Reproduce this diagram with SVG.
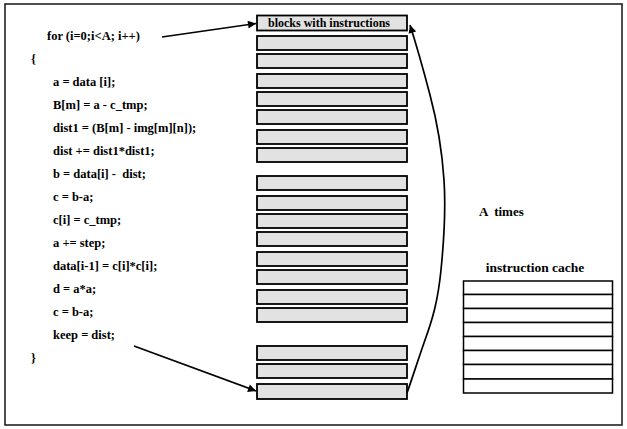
<svg xmlns="http://www.w3.org/2000/svg" width="627" height="429" viewBox="0 0 627 429">
<style>
.t{font-family:"Liberation Serif","Times New Roman",serif;font-weight:bold;fill:#000}
.code{font-size:12.5px}
.blk{fill:#e2e2e2;stroke:#000;stroke-width:1.8}
.row{fill:#fff;stroke:#000;stroke-width:1.5}
.conn{fill:none;stroke:#000;stroke-width:1.7}
</style>
<defs>
<marker id="ah" viewBox="0 0 10 10" refX="10" refY="5" markerWidth="10" markerHeight="8" markerUnits="userSpaceOnUse" orient="auto">
<path d="M0,0 L10,5 L0,10 z" fill="#000"/>
</marker>
</defs>
<rect x="5" y="4" width="617" height="421" fill="#fff" stroke="#222" stroke-width="1.6"/>
<g id="code">
<text class="t code" x="47" y="40">for (i=0;i&lt;A; i++)</text>
<text class="t code" x="31" y="63">{</text>
<text class="t code" x="53" y="86">a = data [i];</text>
<text class="t code" x="53" y="109">B[m] = a - c_tmp;</text>
<text class="t code" x="53" y="132">dist1 = (B[m] - img[m][n]);</text>
<text class="t code" x="53" y="155">dist += dist1*dist1;</text>
<text class="t code" x="53" y="178" xml:space="preserve">b = data[i] -  dist;</text>
<text class="t code" x="53" y="201">c = b-a;</text>
<text class="t code" x="53" y="224">c[i] = c_tmp;</text>
<text class="t code" x="53" y="247">a += step;</text>
<text class="t code" x="53" y="270">data[i-1] = c[i]*c[i];</text>
<text class="t code" x="53" y="293">d = a*a;</text>
<text class="t code" x="53" y="316">c = b-a;</text>
<text class="t code" x="53" y="339">keep = dist;</text>
<text class="t code" x="31" y="362">}</text>
</g>
<g id="blocks">
<rect class="blk" x="257" y="15.5" width="150" height="15"/>
<text class="t" x="329" y="27" font-size="12" text-anchor="middle">blocks with instructions</text>
<rect class="blk" x="257" y="36" width="150" height="14"/>
<rect class="blk" x="257" y="54" width="150" height="14"/>
<rect class="blk" x="257" y="74" width="150" height="14"/>
<rect class="blk" x="257" y="92" width="150" height="14"/>
<rect class="blk" x="257" y="110" width="150" height="14"/>
<rect class="blk" x="257" y="130" width="150" height="14"/>
<rect class="blk" x="257" y="148" width="150" height="14"/>
<rect class="blk" x="257" y="176" width="150" height="14"/>
<rect class="blk" x="257" y="196" width="150" height="14"/>
<rect class="blk" x="257" y="214" width="150" height="14"/>
<rect class="blk" x="257" y="232" width="150" height="14"/>
<rect class="blk" x="257" y="252" width="150" height="14"/>
<rect class="blk" x="257" y="270" width="150" height="14"/>
<rect class="blk" x="257" y="290" width="150" height="14"/>
<rect class="blk" x="257" y="308" width="150" height="14"/>
<rect class="blk" x="257" y="346" width="150" height="14"/>
<rect class="blk" x="257" y="364" width="150" height="14"/>
<rect class="blk" x="257" y="384" width="150" height="15"/>
</g>
<g id="label-times">
<text class="t" x="479" y="216" font-size="13" xml:space="preserve">A  times</text>
</g>
<g id="cache">
<text class="t" x="535" y="272" font-size="13.5" text-anchor="middle">instruction cache</text>
<rect class="row" x="463.5" y="281" width="149" height="13.5"/>
<rect class="row" x="463.5" y="294.5" width="149" height="14"/>
<rect class="row" x="463.5" y="308.5" width="149" height="14"/>
<rect class="row" x="463.5" y="322.5" width="149" height="14"/>
<rect class="row" x="463.5" y="336.5" width="149" height="14"/>
<rect class="row" x="463.5" y="350.5" width="149" height="14"/>
<rect class="row" x="463.5" y="364.5" width="149" height="14.5"/>
<rect class="row" x="463.5" y="379" width="149" height="14"/>
</g>
<g id="connectors">
<line class="conn" x1="162" y1="37" x2="256" y2="23.5" marker-end="url(#ah)"/>
<line class="conn" x1="134" y1="346" x2="256" y2="391" marker-end="url(#ah)"/>
<path class="conn" d="M407,393 C413,376 418,360 425,340 C433,318 438,300 441,270 C444,240 446,210 444,180 C442,150 438,125 430,95 C424,72 418,50 410,25" marker-end="url(#ah)"/>
</g>
</svg>
